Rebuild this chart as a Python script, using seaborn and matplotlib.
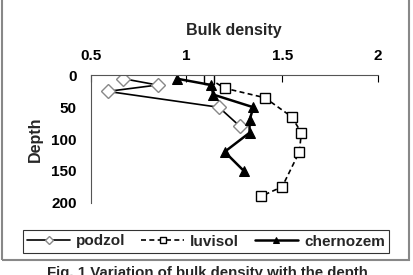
import matplotlib
matplotlib.use('Agg')
import matplotlib.pyplot as plt
import pandas as pd
import seaborn as sns
from matplotlib.patches import Rectangle

sns.set_style('white')
plt.rcParams['font.family'] = ['Liberation Sans', 'DejaVu Sans']
plt.rcParams['font.weight'] = 'bold'

# data
podzol_density = [0.67, 0.85, 0.59, 1.17, 1.28]
podzol_depth = [5, 15, 25, 50, 80]

luvisol_density = [1.12, 1.20, 1.41, 1.55, 1.60, 1.59, 1.50, 1.39]
luvisol_depth = [5, 20, 35, 65, 90, 120, 175, 190]

chernozem_density = [0.95, 1.13, 1.14, 1.35, 1.33, 1.33, 1.20, 1.30]
chernozem_depth = [5, 15, 30, 50, 70, 90, 120, 150]

x_ticks = [0.5, 1, 1.5, 2]
x_tick_labels = ['0.5', '1', '1.5', '2']
y_ticks = [0, 50, 100, 150, 200]

podzol = pd.DataFrame({'density': podzol_density, 'depth': podzol_depth})
luvisol = pd.DataFrame({'density': luvisol_density, 'depth': luvisol_depth})
chernozem = pd.DataFrame({'density': chernozem_density, 'depth': chernozem_depth})

fig = plt.figure(figsize=(4.14, 2.75), dpi=100)
ax = fig.add_axes([0.2186, 0.263, 0.6944, 0.4625])

sns.lineplot(data=podzol, x='density', y='depth', sort=False, estimator=None,
             color='black', lw=1.2, marker='D', markersize=7,
             markerfacecolor='white', markeredgecolor='#888888',
             markeredgewidth=1.0, label='podzol', ax=ax)
sns.lineplot(data=luvisol, x='density', y='depth', sort=False, estimator=None,
             color='black', lw=1.2, linestyle=(0, (3, 2)), marker='s',
             markersize=7.5, markerfacecolor='white', markeredgecolor='black',
             markeredgewidth=1.0, label='luvisol', ax=ax)
sns.lineplot(data=chernozem, x='density', y='depth', sort=False, estimator=None,
             color='black', lw=1.8, marker='^', markersize=7.5,
             markerfacecolor='black', markeredgecolor='black',
             label='chernozem', ax=ax)

ax.set_xlim(0.5, 2)
ax.set_ylim(200, 0)
ax.xaxis.set_label_position('top')
ax.xaxis.tick_top()
ax.set_xticks(x_ticks)
ax.set_xticklabels(x_tick_labels)
ax.set_yticks(y_ticks)
ax.tick_params(axis='x', direction='in', length=5, width=0.8, labelsize=11,
               pad=9, colors='black')
ax.tick_params(axis='y', direction='out', length=5, width=0.8, labelsize=11,
               pad=5, colors='black')
for s in ['right', 'bottom']:
    ax.spines[s].set_visible(False)
for s in ['left', 'top']:
    ax.spines[s].set_color('#555555')
    ax.spines[s].set_linewidth(0.8)
ax.set_xlabel('Bulk density', fontsize=11.5, fontweight='bold', labelpad=10)
ax.set_ylabel('Depth', fontsize=11.5, fontweight='bold', labelpad=6)

ax.get_legend().remove()
handles, labels = ax.get_legend_handles_labels()
leg = fig.legend(handles, labels, loc='center', ncol=3,
                 bbox_to_anchor=(15 / 414, 1 - 255 / 275, 382 / 414, 27 / 275),
                 mode='expand', frameon=True, fancybox=False, fontsize=11,
                 handlelength=2.8, markerscale=0.6, borderpad=0.3,
                 columnspacing=1.0, handletextpad=0.4)
leg.get_frame().set_edgecolor('black')
leg.get_frame().set_linewidth(0.8)
for t in leg.get_texts():
    t.set_fontweight('bold')

fig.patches.append(Rectangle((2 / 414, 1 - 260 / 275), 407 / 414, 1.0,
                             transform=fig.transFigure, fill=False,
                             edgecolor='#888888', lw=1.5))

fig.text(0.5, 1 - 266 / 275, 'Fig. 1 Variation of bulk density with the depth',
         ha='center', va='top', fontsize=10.8, fontweight='bold')

fig.savefig('out.png', dpi=100)
